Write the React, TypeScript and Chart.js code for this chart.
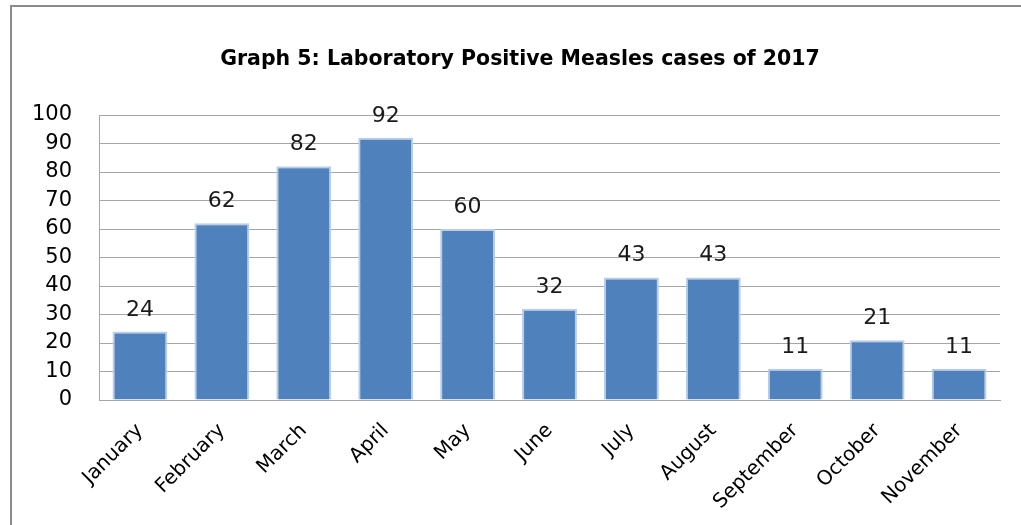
import React, { useEffect, useRef } from "react";
import { Chart, registerables } from "chart.js";

Chart.register(...registerables);

const TITLE = "Graph 5: Laboratory Positive Measles cases of 2017";
const MONTHS = [
  "January", "February", "March", "April", "May", "June",
  "July", "August", "September", "October", "November",
];
const CASES = [24, 62, 82, 92, 60, 32, 43, 43, 11, 21, 11];
const Y_TICKS = [0, 10, 20, 30, 40, 50, 60, 70, 80, 90, 100];

const FONT = "'DejaVu Sans', 'Open Sans', sans-serif";

const valueLabels = {
  id: "valueLabels",
  afterDatasetsDraw(chart: any) {
    const ctx = chart.ctx;
    const meta = chart.getDatasetMeta(0);
    ctx.save();
    ctx.font = `22px ${FONT}`;
    ctx.fillStyle = "#1a1a1a";
    ctx.textAlign = "center";
    ctx.textBaseline = "alphabetic";
    meta.data.forEach((bar: any, i: number) => {
      ctx.fillText(String(chart.data.datasets[0].data[i]), bar.x, bar.y - 16);
    });
    ctx.restore();
  },
};

const chartTitle = {
  id: "chartTitle",
  afterDraw(chart: any) {
    const ctx = chart.ctx;
    ctx.save();
    ctx.font = `bold 20.5px ${FONT}`;
    ctx.fillStyle = "#000";
    ctx.textAlign = "center";
    ctx.textBaseline = "middle";
    ctx.fillText(TITLE, 520, 60);
    ctx.restore();
  },
};

export default function App() {
  const ref = useRef<HTMLCanvasElement | null>(null);

  useEffect(() => {
    if (!ref.current) return;
    const chart = new Chart(ref.current, {
      type: "bar",
      data: {
        labels: MONTHS,
        datasets: [
          {
            data: CASES,
            backgroundColor: "#4f81bd",
            borderColor: "#b9cde5",
            borderWidth: 2,
            barPercentage: 0.67,
            categoryPercentage: 1,
          },
        ],
      },
      options: {
        animation: false,
        responsive: false,
        maintainAspectRatio: false,
        layout: { padding: { left: 0, right: 21, top: 115, bottom: 0 } },
        plugins: {
          legend: { display: false },
          tooltip: { enabled: false },
          title: { display: false },
        },
        scales: {
          x: {
            grid: { display: false, drawTicks: false },
            border: { display: true, color: "#a6a6a6", width: 1 },
            ticks: {
              color: "#000",
              font: { family: FONT, size: 20 },
              maxRotation: 45,
              minRotation: 45,
              padding: 19,
              autoSkip: false,
            },
            afterFit(scale: any) {
              scale.height = 125;
            },
          },
          y: {
            min: 0,
            max: 100,
            afterBuildTicks(scale: any) {
              scale.ticks = Y_TICKS.map((v) => ({ value: v }));
            },
            grid: { color: "#a6a6a6", lineWidth: 1, drawTicks: false },
            border: { display: true, color: "#a6a6a6", width: 1 },
            ticks: {
              color: "#000",
              font: { family: FONT, size: 21 },
              padding: 27,
            },
            afterFit(scale: any) {
              scale.width = 99;
            },
          },
        },
      },
      plugins: [valueLabels, chartTitle],
    });
    return () => chart.destroy();
  }, []);

  return (
    <div style={{ position: "fixed", left: 0, top: 0, width: 1021, height: 525, background: "#fff" }}>
      <div
        style={{
          position: "absolute",
          left: 10,
          top: 5,
          width: 1011,
          height: 520,
          borderTop: "2px solid #8c8c8c",
          borderLeft: "2px solid #8c8c8c",
          boxSizing: "border-box",
        }}
      />
      <canvas ref={ref} width={1021} height={525} style={{ position: "absolute", left: 0, top: 0 }} />
    </div>
  );
}
